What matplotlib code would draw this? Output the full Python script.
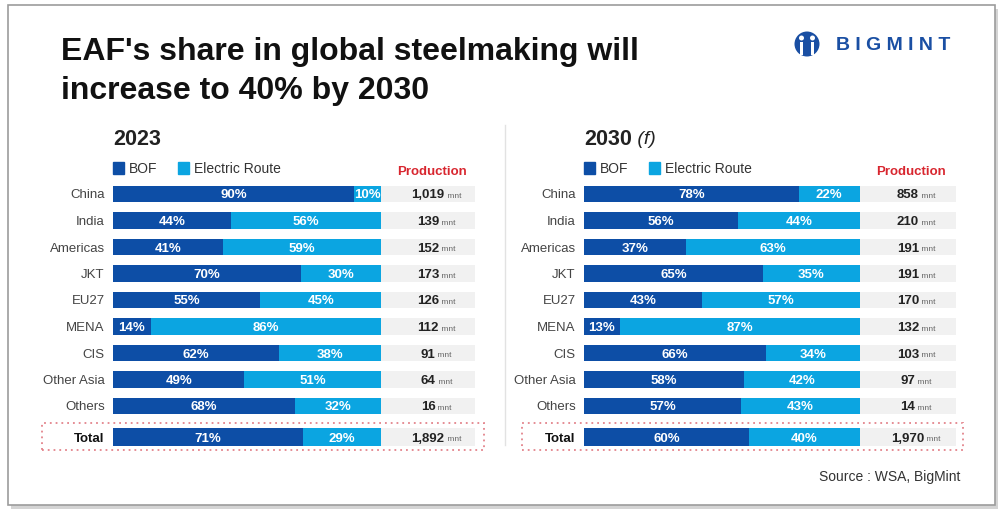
import matplotlib
matplotlib.use("Agg")
import matplotlib.pyplot as plt
import matplotlib.patches as mpatches
import numpy as np

plt.rcParams['font.family'] = ['Liberation Sans', 'DejaVu Sans']

# data
regions = ["China", "India", "Americas", "JKT", "EU27", "MENA", "CIS",
           "Other Asia", "Others", "Total"]
bof_2023 = [90, 44, 41, 70, 55, 14, 62, 49, 68, 71]
eaf_2023 = [10, 56, 59, 30, 45, 86, 38, 51, 32, 29]
prod_2023 = [1019, 139, 152, 173, 126, 112, 91, 64, 16, 1892]
bof_2030 = [78, 56, 37, 65, 43, 13, 66, 58, 57, 60]
eaf_2030 = [22, 44, 63, 35, 57, 87, 34, 42, 43, 40]
prod_2030 = [858, 210, 191, 191, 170, 132, 103, 97, 14, 1970]

BOF_COLOR = "#0d4ea6"
EAF_COLOR = "#0ba5e1"
BOX_COLOR = "#f1f1f1"
RED = "#d8262f"
W, H = 1008, 520
BOX_UNITS = 35  # width of the production box in percent units

fig = plt.figure(figsize=(W / 100, H / 100), dpi=100)


def fx(x):
    return x / W


def fy(y):
    return 1 - y / H


# card with shadow
fig.patches.append(mpatches.Rectangle((fx(11), fy(509)), fx(987), 500 / H,
                                      transform=fig.transFigure, facecolor="#d4d4d4",
                                      edgecolor="none", zorder=-3))
fig.patches.append(mpatches.Rectangle((fx(8), fy(505)), fx(987), 500 / H,
                                      transform=fig.transFigure, facecolor="white",
                                      edgecolor="#9c9c9c", lw=1.2, zorder=-2))

fig.text(fx(61), fy(52), "EAF's share in global steelmaking will", fontsize=23,
         fontweight="bold", color="#111111", va="center", ha="left")
fig.text(fx(61), fy(91), "increase to 40% by 2030", fontsize=23,
         fontweight="bold", color="#111111", va="center", ha="left")

# logo
logo_blue = "#1a4fa3"
fig.patches.append(mpatches.Ellipse((fx(807), fy(44)), 25 / W, 25 / H,
                                    transform=fig.transFigure, facecolor=logo_blue,
                                    edgecolor="none", zorder=1))
for cx in (801.5, 812.5):
    fig.patches.append(mpatches.Ellipse((fx(cx), fy(38)), 5 / W, 5 / H,
                                        transform=fig.transFigure, facecolor="white",
                                        edgecolor="none", zorder=2))
    fig.patches.append(mpatches.Rectangle((fx(cx - 1.6), fy(55)), 3.2 / W, 13 / H,
                                          transform=fig.transFigure, facecolor="white",
                                          edgecolor="none", zorder=2))
fig.text(fx(836), fy(46), "B I G M I N T", fontsize=14, fontweight="bold",
         color=logo_blue, va="center", ha="left")

# divider between panels
fig.add_artist(plt.Line2D([fx(505), fx(505)], [fy(125), fy(445)],
                          transform=fig.transFigure, color="#e2e2e2", lw=1))

row_px = 26.5
ypos = np.arange(len(regions), dtype=float)
ypos[-1] = 8 + 31 / row_px
y_top, y_bot = -0.55, 9.75


def panel(x0, x1, bof, eaf, prod, year, suffix, box_x0, box_x1):
    top_px = 194 + y_top * row_px
    h_px = (y_bot - y_top) * row_px
    ax = fig.add_axes([fx(x0), fy(top_px + h_px), fx(x1 - x0), h_px / H])
    ax.set_xlim(0, 100 + BOX_UNITS)
    ax.set_ylim(y_bot, y_top)
    heights = [0.62] * (len(regions) - 1) + [0.7]
    ax.barh(ypos, [100 + BOX_UNITS] * len(regions), height=heights, color=BOX_COLOR,
            zorder=1)
    ax.barh(ypos, bof, height=heights, color=BOF_COLOR, zorder=2)
    ax.barh(ypos, eaf, left=bof, height=heights, color=EAF_COLOR, zorder=2)
    for y, b, e, p in zip(ypos, bof, eaf, prod):
        ax.text(b / 2, y, f"{b}%", color="white", fontweight="bold", fontsize=9.5,
                ha="center", va="center_baseline", zorder=3)
        ax.text(b + e / 2, y, f"{e}%", color="white", fontweight="bold", fontsize=9.5,
                ha="center", va="center_baseline", zorder=3)
        num = ax.text(100 + BOX_UNITS / 2, y, f"{p:,}", color="#222222",
                      fontweight="bold", fontsize=9.5, ha="center",
                      va="center_baseline", zorder=3)
        ax.annotate(" mnt", xy=(1, 0.12), xycoords=num, fontsize=6, color="#666666",
                    ha="left", va="bottom", zorder=3)
    ax.set_yticks(ypos)
    ax.set_yticklabels(regions, fontsize=9.5, color="#444444")
    ax.get_yticklabels()[-1].set_fontweight("bold")
    ax.get_yticklabels()[-1].set_color("#111111")
    ax.tick_params(axis="y", length=0, pad=6)
    ax.set_xticks([])
    for s in ax.spines.values():
        s.set_visible(False)
    ax.patch.set_alpha(0)

    # year heading
    yr = fig.text(fx(x0), fy(140), year, fontsize=15.5, fontweight="bold",
                  color="#222222", va="center", ha="left")
    if suffix:
        ax.annotate(suffix, xy=(1, 0.5), xycoords=yr, fontsize=14, fontstyle="italic",
                    color="#222222", va="center", ha="left", annotation_clip=False)

    handles = [mpatches.Patch(color=BOF_COLOR, label="BOF"),
               mpatches.Patch(color=EAF_COLOR, label="Electric Route")]
    ax.legend(handles=handles, loc="center left",
              bbox_to_anchor=(fx(x0 - 13), fy(169)), bbox_transform=fig.transFigure,
              ncol=2, frameon=False, fontsize=10, handlelength=0.8, handleheight=0.9,
              handletextpad=0.35, columnspacing=1.5, labelcolor="#333333")

    fig.text(fx((box_x0 + box_x1) / 2 + 4), fy(172), "Production", fontsize=9.5,
             fontweight="bold", color=RED, va="center", ha="center")
    return ax


panel(113, 475, bof_2023, eaf_2023, prod_2023, "2023", "", 381, 475)
panel(584, 956, bof_2030, eaf_2030, prod_2030, "2030", " (f)", 858, 956)

# dotted frames around the totals
for bx0, bx1 in ((42, 484), (522, 963)):
    fig.patches.append(mpatches.Rectangle((fx(bx0), fy(450)), fx(bx1 - bx0), 27 / H,
                                          transform=fig.transFigure, fill=False,
                                          edgecolor="#e3838b", lw=1.3,
                                          linestyle=(0, (1, 2.2))))

fig.text(fx(960), fy(477), "Source : WSA, BigMint", fontsize=10, color="#333333",
         ha="right", va="center")

fig.savefig("out.png", dpi=100)
